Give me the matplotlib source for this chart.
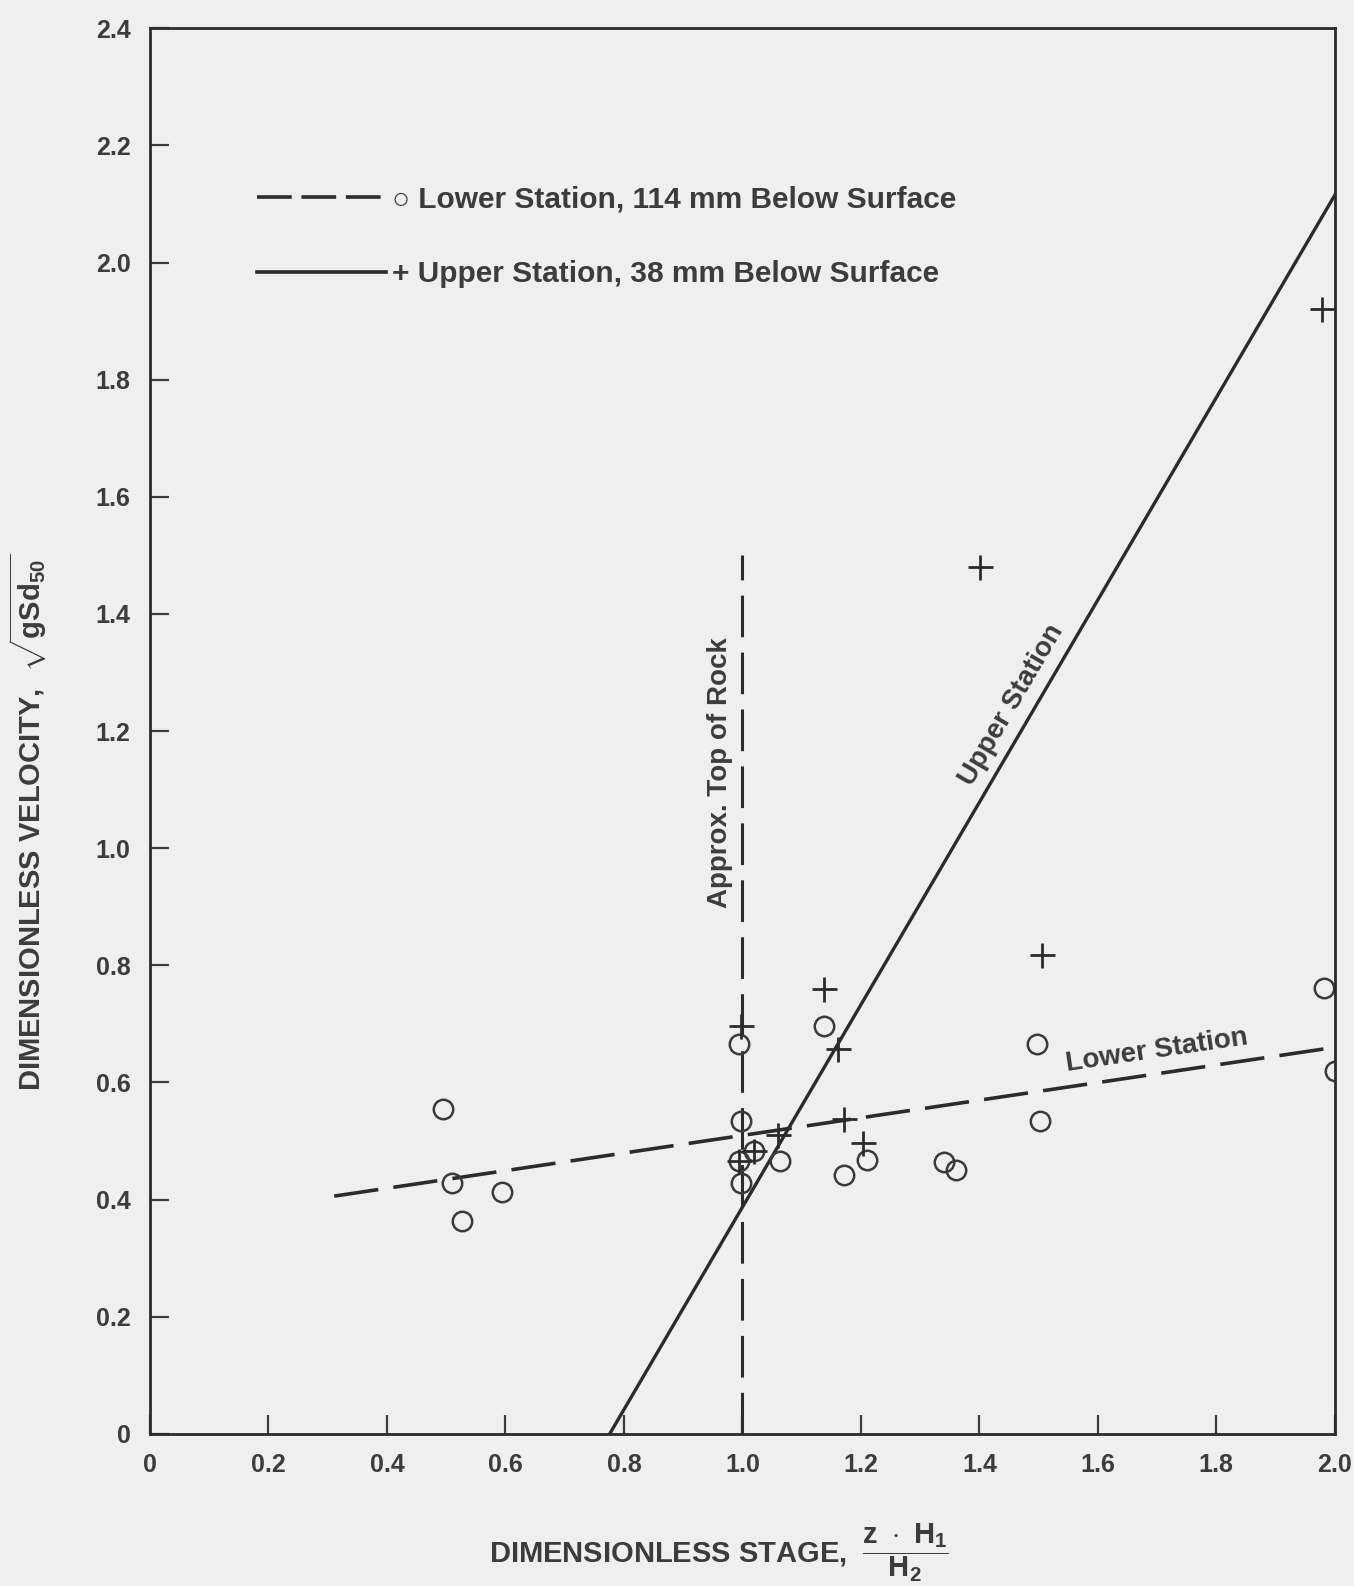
import matplotlib
matplotlib.use('Agg')
import matplotlib.pyplot as plt
import numpy as np

plt.rcParams['font.family'] = ['Liberation Sans', 'DejaVu Sans']
plt.rcParams['font.weight'] = 'bold'
plt.rcParams['axes.labelweight'] = 'bold'
plt.rcParams['mathtext.fontset'] = 'custom'
plt.rcParams['mathtext.rm'] = 'Liberation Sans:bold'
plt.rcParams['mathtext.it'] = 'Liberation Sans:bold'
plt.rcParams['mathtext.bf'] = 'Liberation Sans:bold'
plt.rcParams['lines.scale_dashes'] = False

# lower station (circles), 114 mm below surface
lower_x = [0.495, 0.509, 0.527, 0.594, 0.995, 0.998, 0.995, 1.02, 0.998, 1.063,
           1.138, 1.172, 1.21, 1.341, 1.36, 1.497, 1.502, 1.981, 2.0]
lower_y = [0.554, 0.428, 0.364, 0.413, 0.665, 0.535, 0.466, 0.483, 0.428, 0.466,
           0.696, 0.442, 0.468, 0.464, 0.451, 0.665, 0.535, 0.761, 0.62]

# upper station (plus), 38 mm below surface
upper_x = [0.995, 1.02, 1.06, 1.138, 1.162, 1.172, 1.203, 1.401, 1.505, 1.978, 0.998]
upper_y = [0.466, 0.483, 0.51, 0.76, 0.658, 0.537, 0.496, 1.48, 0.817, 1.92, 0.696]

# fitted lines (end points)
lower_fit_x = [0.311, 2.0]
lower_fit_y = [0.406, 0.66]
upper_fit_x = [0.776, 2.0]
upper_fit_y = [0.0, 2.115]

rock_x = [1.0, 1.0]
rock_y = [0.0, 1.5]

xticks = [0, 0.2, 0.4, 0.6, 0.8, 1.0, 1.2, 1.4, 1.6, 1.8, 2.0]
xticklabels = ['0', '0.2', '0.4', '0.6', '0.8', '1.0', '1.2', '1.4', '1.6', '1.8', '2.0']
yticks = [0, 0.2, 0.4, 0.6, 0.8, 1.0, 1.2, 1.4, 1.6, 1.8, 2.0, 2.2, 2.4]
yticklabels = ['0', '0.2', '0.4', '0.6', '0.8', '1.0', '1.2', '1.4', '1.6', '1.8',
               '2.0', '2.2', '2.4']

ink = '#2b2b2b'
txt = '#3c3c3c'
bg = '#efefef'

fig = plt.figure(figsize=(13.54, 15.86), dpi=100, facecolor=bg)
ax = fig.add_axes([0.1108, 0.0959, 0.875, 0.8863], facecolor=bg)

ax.plot(lower_fit_x, lower_fit_y, color=ink, lw=2.6, dashes=(32, 11))
ax.plot(upper_fit_x, upper_fit_y, color=ink, lw=2.4)
ax.plot(rock_x, rock_y, color=ink, lw=2.2, dashes=(30, 11))

ax.plot(lower_x, lower_y, 'o', ms=14, mfc='none', mec='#3a3a3a', mew=1.8)
ax.plot(upper_x, upper_y, '+', ms=18, mec=ink, mew=2.0)

ax.text(0.962, 1.13, 'Approx. Top of Rock', rotation=90, ha='center', va='center',
        fontsize=20, color=txt)
ax.text(1.455, 1.245, 'Upper Station', rotation=59.7, ha='center', va='center',
        fontsize=20, color=txt)
ax.text(1.70, 0.655, 'Lower Station', rotation=8.4, ha='center', va='center',
        fontsize=20, color=txt)

# legend
h1, = ax.plot([], [], color=ink, lw=2.6, dashes=(25, 7))
h2, = ax.plot([], [], color=ink, lw=2.6)
leg = ax.legend([h1, h2],
                ['\u25CB Lower Station, 114 mm Below Surface',
                 '+ Upper Station, 38 mm Below Surface'],
                loc='upper left', bbox_to_anchor=(0.068, 0.907), frameon=False,
                prop={'size': 21.5, 'weight': 'bold'}, handlelength=4.3,
                handletextpad=0.2, labelspacing=1.55, labelcolor=txt)

ax.set_xlim(0, 2.0)
ax.set_ylim(0, 2.4)
ax.set_xticks(xticks)
ax.set_xticklabels(xticklabels)
ax.set_yticks(yticks)
ax.set_yticklabels(yticklabels)
ax.tick_params(direction='in', length=14, width=1.6, colors=txt, labelsize=18,
               pad=14)
for s in ax.spines.values():
    s.set_linewidth(2.0)
    s.set_color(ink)

ax.set_xlabel('DIMENSIONLESS STAGE,  $\\dfrac{\\mathrm{z\\ \\cdot\\ H_1}}{\\mathrm{H_2}}$',
              fontsize=21, color=txt)
ax.xaxis.set_label_coords(0.48, -0.062)
ax.set_ylabel('DIMENSIONLESS VELOCITY,  $\\sqrt{\\mathrm{gSd_{50}}}$', fontsize=21,
              color=txt)
ax.yaxis.set_label_coords(-0.085, 0.435)

fig.savefig('out.png', dpi=100, facecolor=bg)
